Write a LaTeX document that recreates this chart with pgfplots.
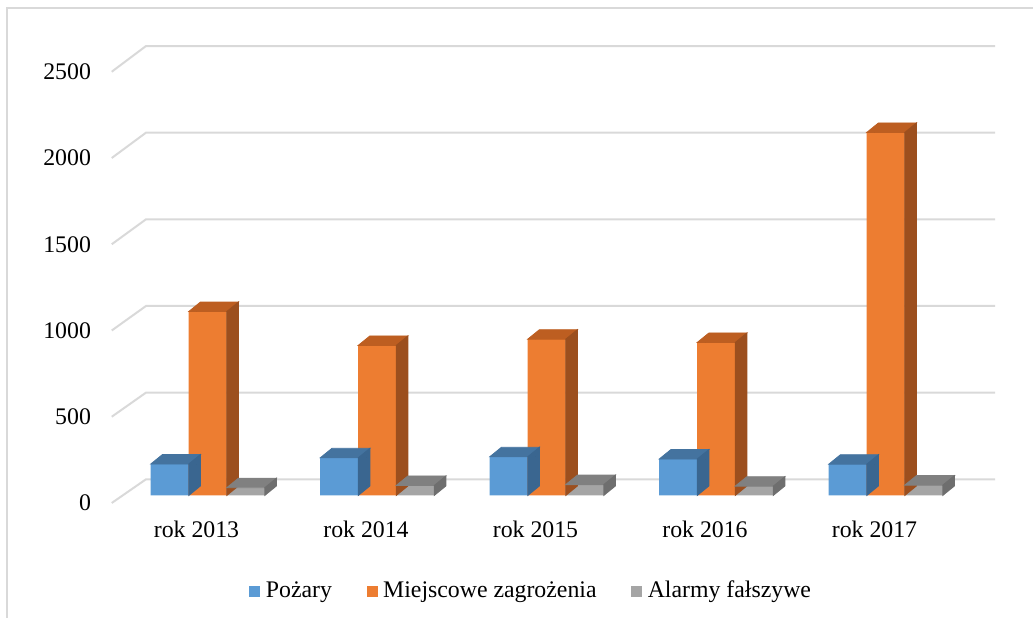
\documentclass[border=0pt]{standalone}
\usepackage{fontspec}
\setmainfont{Liberation Serif}
\usepackage{pgfplots}
\usepackage{pgfplotstable}
\pgfplotsset{compat=1.18}

\definecolor{cBlue}{HTML}{5B9BD5}
\definecolor{cBlueTop}{HTML}{44739F}
\definecolor{cBlueSide}{HTML}{3A6690}
\definecolor{cOrange}{HTML}{ED7D31}
\definecolor{cOrangeTop}{HTML}{BD5E21}
\definecolor{cOrangeSide}{HTML}{9C4F1E}
\definecolor{cGray}{HTML}{A5A5A5}
\definecolor{cGrayTop}{HTML}{808080}
\definecolor{cGraySide}{HTML}{6E6E6E}
\definecolor{cGrid}{HTML}{D9D9D9}

\pgfplotstableread{
x y
0.5 182
1.5 218
2.5 224
3.5 211
4.5 181
}\pozary
\pgfplotstableread{
x y
0.5 1065
1.5 869
2.5 905
3.5 886
4.5 2102
}\miejscowe
\pgfplotstableread{
x y
0.5 45
1.5 58
2.5 63
3.5 54
4.5 60
}\alarmy

\newcommand{\chartfont}{\fontsize{11.9pt}{14pt}\selectfont}

\pgfplotsset{
  bar3d/.style n args={3}{%
    forget plot, only marks, scatter, mark=*, mark size=0pt,
    mark options={draw=none, fill=none},
    visualization depends on={rawy \as \rawy},
    scatter/@pre marker code/.code={%
      \pgfmathsetmacro\hh{\rawy*0.08635}%
      \fill[#2] ({#1pt-9.5pt},0pt) -- ({#1pt+9.5pt},0pt) -- ({#1pt+15.35pt},4.75pt) -- ({#1pt-3.65pt},4.75pt) -- cycle;
      \fill[#3] ({#1pt+9.5pt},0pt) -- ({#1pt+15.35pt},4.75pt) -- ({#1pt+15.35pt},{4.75pt-\hh pt}) -- ({#1pt+9.5pt},{-\hh pt}) -- cycle;
      \begin{scope}
    },
    scatter/@post marker code/.code={\end{scope}},
  },
  frontbar/.style 2 args={ybar, bar width=19pt, bar shift=#1pt, fill=#2, draw=none},
}

\begin{document}
\begin{tikzpicture}
\path[use as bounding box] (0pt,0pt) rectangle (516.5pt,308.5pt);
\draw[cGrid, line width=1pt] (3.6pt,-5pt) |- (530pt,304.5pt);
\begin{axis}[
  at={(55.875pt,56.44pt)}, anchor=south west,
  x=84.75pt, y=0.08635pt,
  xmin=0, xmax=5, ymin=-50, ymax=2700,
  axis line style={draw=none},
  clip=false,
  xtick={0.5,1.5,2.5,3.5,4.5},
  xticklabels={rok 2013, rok 2014, rok 2015, rok 2016, rok 2017},
  ytick={-43.4,456.0,955.4,1454.8,1954.2,2453.6},
  yticklabels={0,500,1000,1500,2000,2500},
  major tick length=0pt,
  tick style={draw=none},
  xticklabel style={font=\chartfont, anchor=north, inner sep=0pt, yshift=-8.3pt},
  yticklabel style={font=\chartfont, anchor=east, inner sep=0pt, xshift=-10.2pt},
  legend columns=3,
  legend style={draw=none, fill=none, font=\chartfont,
    at={(0.497,-0.183)}, anchor=center,
    /tikz/every even column/.append style={column sep=14.5pt},
    nodes={inner sep=2.8pt}},
  legend image code/.code={\draw[#1, draw=none] (0pt,-2.75pt) rectangle (5.5pt,2.75pt);},
]
% gridlines (back wall + left wall)
\addplot[cGrid, line width=1pt, forget plot] coordinates {(0,-43.4) (0.202,93.8) (5.211,93.8)};
\addplot[cGrid, line width=1pt, forget plot] coordinates {(0,456.0) (0.202,595.6) (5.211,595.6)};
\addplot[cGrid, line width=1pt, forget plot] coordinates {(0,955.4) (0.202,1097.3) (5.211,1097.3)};
\addplot[cGrid, line width=1pt, forget plot] coordinates {(0,1454.8) (0.202,1599.1) (5.211,1599.1)};
\addplot[cGrid, line width=1pt, forget plot] coordinates {(0,1954.2) (0.202,2100.8) (5.211,2100.8)};
\addplot[cGrid, line width=1pt, forget plot] coordinates {(0,2453.6) (0.202,2602.6) (5.211,2602.6)};

\addplot[frontbar={-13.4}{cBlue}] table {\pozary};
\addlegendentry{Pożary}
\addplot[bar3d={-13.4}{cBlueTop}{cBlueSide}] table {\pozary};

\addplot[frontbar={5.6}{cOrange}] table {\miejscowe};
\addlegendentry{Miejscowe zagrożenia}
\addplot[bar3d={5.6}{cOrangeTop}{cOrangeSide}] table {\miejscowe};

\addplot[frontbar={24.6}{cGray}] table {\alarmy};
\addlegendentry{Alarmy fałszywe}
\addplot[bar3d={24.6}{cGrayTop}{cGraySide}] table {\alarmy};
\end{axis}
\end{tikzpicture}
\end{document}
